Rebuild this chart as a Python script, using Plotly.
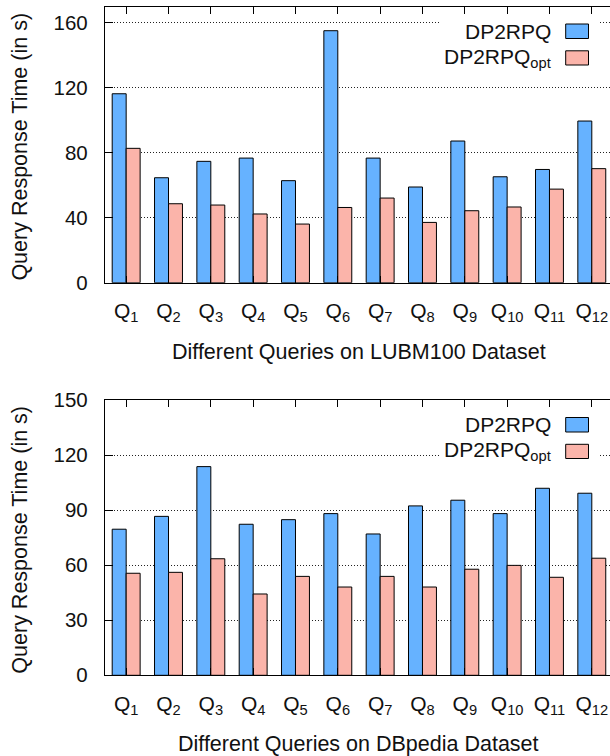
import plotly.graph_objects as go

# Query labels (Q1..Q12)
queries = [f"Q{i}" for i in range(1, 13)]
query_ticktext = [f"Q<sub>{i}</sub>" for i in range(1, 13)]

# LUBM100 response times (s)
lubm_dp2rpq = [116.3, 64.6, 74.7, 76.7, 62.8, 155.1, 76.7, 58.9, 87.2, 65.2, 69.7, 99.5]
lubm_dp2rpq_opt = [82.7, 48.6, 47.8, 42.3, 36.1, 46.3, 52.1, 37.1, 44.3, 46.6, 57.6, 70.2]

# DBpedia response times (s)
dbp_dp2rpq = [79.6, 86.6, 113.7, 82.3, 84.8, 88.1, 77.0, 92.3, 95.4, 88.1, 101.9, 99.2]
dbp_dp2rpq_opt = [55.6, 56.1, 63.5, 44.3, 53.9, 48.1, 53.9, 48.1, 57.8, 59.9, 53.4, 63.8]

lubm_yticks = [0, 40, 80, 120, 160]
dbp_yticks = [0, 30, 60, 90, 120, 150]

W, H = 610, 756
BLUE = "#66b2ff"
PINK = "#fbb4aa"
FONT = "Liberation Sans, Arial, sans-serif"
INK = "#111111"

# pixel layout helpers
def px(x):
    return x / W

def py(y):
    return 1 - y / H

plot_left = 105
px_per_query = 42.33
plot_center_x = plot_left + 12 * px_per_query / 2  # centre of the full 12-slot plot area

panels = [
    dict(top=6.5, bottom=282.7, yr=[0, 170], ticks=lubm_yticks,
         a=lubm_dp2rpq, b=lubm_dp2rpq_opt,
         xtitle="Different Queries on LUBM100 Dataset"),
    dict(top=400.0, bottom=675.3, yr=[0, 150], ticks=dbp_yticks,
         a=dbp_dp2rpq, b=dbp_dp2rpq_opt,
         xtitle="Different Queries on DBpedia Dataset"),
]

fig = go.Figure()
shapes = []
annotations = []
xrange_ = [-0.5, -0.5 + (W - plot_left) / px_per_query]

for i, p in enumerate(panels):
    n = i + 1
    xa = "x" if n == 1 else f"x{n}"
    ya = "y" if n == 1 else f"y{n}"
    fig.add_trace(go.Bar(x=queries, y=p["a"], name="DP2RPQ", xaxis=xa, yaxis=ya,
                         marker=dict(color=BLUE, line=dict(color="#000000", width=1)),
                         showlegend=False))
    fig.add_trace(go.Bar(x=queries, y=p["b"], name="DP2RPQ<sub>opt</sub>", xaxis=xa, yaxis=ya,
                         marker=dict(color=PINK, line=dict(color="#000000", width=1)),
                         showlegend=False))

    dom_y = [py(p["bottom"]), py(p["top"])]
    xkey = "xaxis" if n == 1 else f"xaxis{n}"
    ykey = "yaxis" if n == 1 else f"yaxis{n}"
    fig.update_layout(**{
        xkey: dict(domain=[px(plot_left), 1], anchor=ya, range=xrange_,
                   type="category", tickmode="array", tickvals=queries,
                   ticktext=query_ticktext, ticks="inside", ticklen=7,
                   tickcolor="#000000", showline=True, linecolor="#000000",
                   linewidth=1.3, mirror="ticks", showgrid=False,
                   ticklabelstandoff=9, automargin=False,
                   tickfont=dict(family=FONT, size=21, color=INK)),
        ykey: dict(domain=dom_y, anchor=xa, range=p["yr"], tickmode="array",
                   tickvals=p["ticks"], ticks="inside", ticklen=8,
                   tickcolor="#000000", showline=True, linecolor="#000000",
                   linewidth=1.3, showgrid=True, gridcolor="#222222",
                   griddash="1px,2px", gridwidth=1, zeroline=False,
                   ticklabelstandoff=12, automargin=False,
                   tickfont=dict(family=FONT, size=20.5, color=INK)),
    })
    # mirrored tick marks on the right edge
    rkey = f"yaxis{n + 2}"
    fig.update_layout(**{
        rkey: dict(overlaying=ya, side="right", anchor=xa, range=p["yr"],
                   tickmode="array", tickvals=p["ticks"], ticks="inside",
                   ticklen=8, tickcolor="#000000", showticklabels=False,
                   showgrid=False, showline=False, zeroline=False,
                   automargin=False),
    })

    # axis titles
    annotations.append(dict(text=p["xtitle"], x=px(plot_center_x), y=py(p["bottom"] + 69),
                            xref="paper", yref="paper", showarrow=False,
                            xanchor="center", yanchor="middle",
                            font=dict(family=FONT, size=21.5, color=INK)))
    annotations.append(dict(text="Query Response Time (in s)", x=px(20),
                            y=py((p["top"] + p["bottom"]) / 2 + 2),
                            xref="paper", yref="paper", showarrow=False,
                            textangle=-90, xanchor="center", yanchor="middle",
                            font=dict(family=FONT, size=21.5, color=INK)))

    # key: opaque box, labels and swatches
    t = p["top"]
    shapes.append(dict(type="rect", xref="paper", yref="paper",
                       x0=px(440), x1=px(600), y0=py(t + 66), y1=py(t + 9),
                       fillcolor="white", line=dict(width=0), layer="above"))
    for k, (label, color, y0, y1) in enumerate([
            ("DP2RPQ", BLUE, 17.5, 32.0),
            ("DP2RPQ<sub>opt</sub>", PINK, 44.3, 58.5)]):
        shapes.append(dict(type="rect", xref="paper", yref="paper",
                           x0=px(565.7), x1=px(588.5), y0=py(t + y1), y1=py(t + y0),
                           fillcolor=color, line=dict(color="#000000", width=1),
                           layer="above"))
        annotations.append(dict(text=label, x=px(553), y=py(t + (y0 + y1) / 2),
                                xref="paper", yref="paper", showarrow=False,
                                xanchor="right", yanchor="middle",
                                font=dict(family=FONT, size=21, color=INK)))

fig.update_layout(
    width=W, height=H,
    margin=dict(l=0, r=0, t=0, b=0, pad=0),
    paper_bgcolor="white", plot_bgcolor="white",
    barmode="group", bargap=0.34, bargroupgap=0,
    shapes=shapes, annotations=annotations,
    showlegend=False,
)

fig.write_html("out.html")
